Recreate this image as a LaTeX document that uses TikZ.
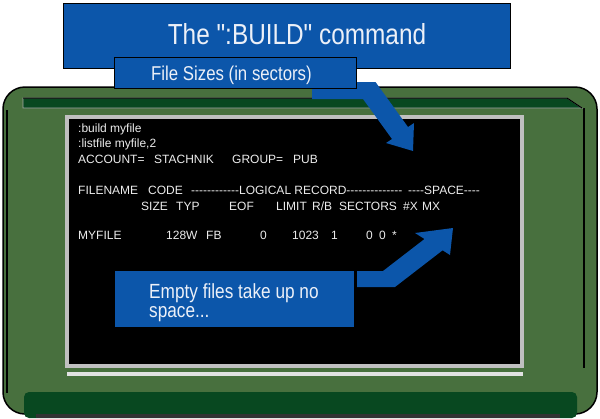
\documentclass[tikz,border=0pt]{standalone}
\usepackage{fontspec}
\setmainfont{Liberation Sans}
\newfontfamily\condfont[FakeStretch=0.84]{Liberation Sans}
\definecolor{boxblue}{RGB}{12,86,170}
\definecolor{mongreen}{RGB}{72,112,62}
\definecolor{bardark}{RGB}{8,72,32}
\definecolor{framegray}{RGB}{192,192,192}
\definecolor{stripgray}{RGB}{226,226,226}
\definecolor{scrtext}{RGB}{236,236,236}
\definecolor{lbltext}{RGB}{236,240,248}
\newcommand\hy{-{}}
\tikzset{
  scr/.style={text=scrtext, font=\fontsize{12}{12}\selectfont, anchor=base west, inner sep=0pt},
  bluebox/.style={fill=boxblue, draw=black, line width=1.2pt, anchor=north west, inner sep=0pt},
  lbl/.style={text=lbltext, inner sep=0pt},
  blockarrow/.style={fill=boxblue, draw=none}
}
\begin{document}
\begin{tikzpicture}[x=1pt,y=-1pt]
\useasboundingbox (0,0) rectangle (600,418);
\fill[white] (0,0) rectangle (600,418);
% monitor body
\draw[fill=mongreen, draw=black, line width=1.5pt, rounded corners=22pt] (3,87) rectangle (597,414);
\draw[black, line width=1.2pt] (7,110) -- (7,393);
\draw[black, line width=1.2pt] (584,108) -- (584,368);
% top bar
\draw[fill=bardark, draw=gray!70, line width=0.8pt] (23,98) -- (567,98) -- (582,108) -- (23,108) -- cycle;
\draw[black, line width=1pt] (23,98) -- (567,98) -- (582,108);
% screen
\fill[framegray] (65,115) rectangle (524,368);
\fill[black] (69,119) rectangle (520,364);
\fill[stripgray] (67,372) rectangle (523,376);
% bottom bar
\fill[bardark, rounded corners=5pt] (24,418) -- (24,392) -- (577,392) -- (577,418) -- cycle;
\fill[black!80] (36,414) rectangle (560,418);
% screen text
\node[scr] (l1) at (78,132) {:build myfile};
\node[scr] (l2) at (78,147) {:listfile myfile,2};
\node[scr] (l3a) at (78,163) {ACCOUNT=};
\node[scr] (l3b) at (154,163) {STACHNIK};
\node[scr] (l3c) at (232,163) {GROUP=};
\node[scr] (l3d) at (293,163) {PUB};
\node[scr] (h1a) at (78,194) {FILENAME};
\node[scr] (h1b) at (148,194) {CODE};
\node[scr] (h1c) at (191,194) {\hy\hy\hy\hy\hy\hy\hy\hy\hy\hy\hy\hy LOGICAL RECORD\hy\hy\hy\hy\hy\hy\hy\hy\hy\hy\hy\hy\hy\hy};
\node[scr] (h1d) at (408,194) {\hy\hy\hy\hy SPACE\hy\hy\hy\hy};
\node[scr] (h2a) at (141,210) {SIZE};
\node[scr] (h2b) at (176,210) {TYP};
\node[scr] (h2c) at (229,210) {EOF};
\node[scr] (h2d) at (276,210) {LIMIT};
\node[scr] (h2e) at (312,210) {R/B};
\node[scr] (h2f) at (339,210) {SECTORS};
\node[scr] (h2g) at (403,210) {\#X};
\node[scr] (h2h) at (422,210) {MX};
\node[scr] (r1) at (78,239) {MYFILE};
\node[scr] (r2) at (166,239) {128W};
\node[scr] (r3) at (206,239) {FB};
\node[scr] (r4) at (260,239) {0};
\node[scr] (r5) at (292,239) {1023};
\node[scr] (r6) at (331,239) {1};
\node[scr] (r7) at (366,239) {0};
\node[scr] (r8) at (379,239) {0};
\node[scr] (r9) at (392,239) {*};
% title box
\node[bluebox, minimum width=447pt, minimum height=65pt] (title) at (63,3) {};
\node[lbl, anchor=base, font=\condfont\fontsize{29}{29}\selectfont] (titletxt) at (297,44) {The ":BUILD" command};
% arrow to sizes
\coordinate (a1s) at (312,82);
\fill[blockarrow] (a1s) -- (375.5,82) -- (408,127) -- (414,123) -- (413,151) -- (386,143) -- (392,139) -- (363,99) -- (312,99) -- cycle;
% file sizes box
\node[bluebox, minimum width=242pt, minimum height=31pt] (sizes) at (114,57) {};
\node[lbl, anchor=base west, font=\condfont\fontsize{20}{20}\selectfont] (sizestxt) at (151,80) {File Sizes (in sectors)};
% empty files box
\node[fill=boxblue, anchor=north west, inner sep=0pt, minimum width=239pt, minimum height=56pt] (empty) at (115,271) {};
\node[lbl, anchor=base west, font=\condfont\fontsize{20.5}{20.5}\selectfont] (emptyt1) at (149,298) {Empty files take up no};
\node[lbl, anchor=base west, font=\condfont\fontsize{20.5}{20.5}\selectfont] (emptyt2) at (149,317) {space...};
\coordinate (a2s) at (357,271);
\fill[blockarrow] (a2s) -- (383,271) -- (424.5,239) -- (415,233) -- (453,228) -- (450,255) -- (442.6,250.3) -- (395,287) -- (357,287) -- cycle;
\end{tikzpicture}
\end{document}
